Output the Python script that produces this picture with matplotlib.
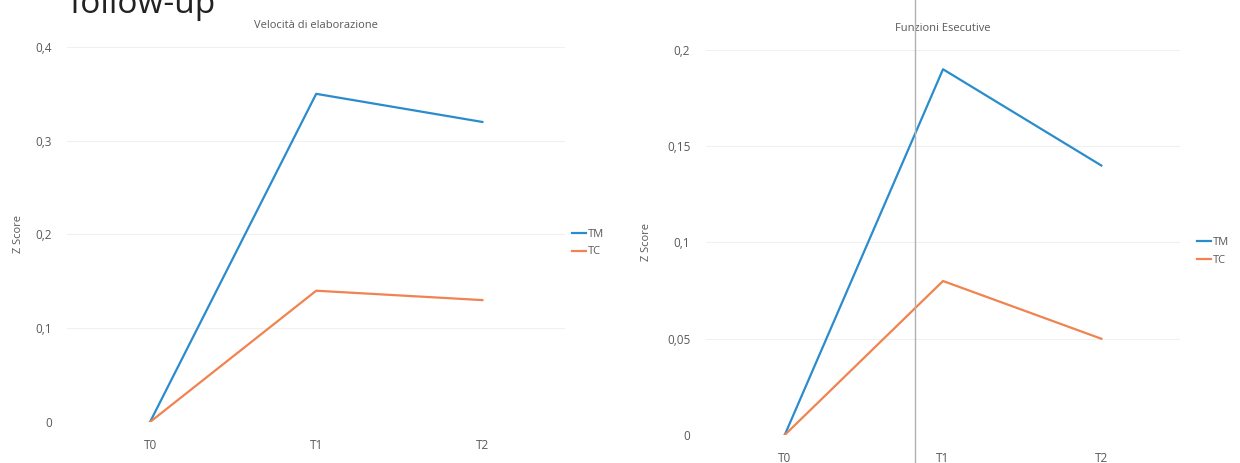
import matplotlib.pyplot as plt
from matplotlib.lines import Line2D

plt.rcParams["font.family"] = ["Open Sans", "DejaVu Sans"]

# data
timepoints = ["T0", "T1", "T2"]
vel_tm = [0, 0.35, 0.32]
vel_tc = [0, 0.14, 0.13]
fe_tm = [0, 0.19, 0.14]
fe_tc = [0, 0.08, 0.05]
vel_ticks = [0, 0.1, 0.2, 0.3, 0.4]
vel_ticklabels = ["0", "0,1", "0,2", "0,3", "0,4"]
fe_ticks = [0, 0.05, 0.1, 0.15, 0.2]
fe_ticklabels = ["0", "0,05", "0,1", "0,15", "0,2"]

BLUE = "#2b8ccd"
ORANGE = "#f0834f"
TEXT = "#595959"

fig = plt.figure(figsize=(12.4, 4.63), dpi=100)
fig.patch.set_facecolor("white")


def draw_panel(rect, tm, tc, ticks, ticklabels, title, ylab_x, leg_x, leg_y):
    ax = fig.add_axes(rect)
    x = [i + 0.5 for i in range(len(timepoints))]
    ax.plot(x, tm, color=BLUE, lw=1.6, label="TM")
    ax.plot(x, tc, color=ORANGE, lw=1.6, label="TC")
    ax.set_xlim(0, len(timepoints))
    ax.set_ylim(ticks[0], ticks[-1])
    ax.set_xticks(x)
    ax.set_xticklabels(timepoints)
    ax.set_yticks(ticks)
    ax.set_yticklabels(ticklabels)
    ax.tick_params(length=0, colors=TEXT, labelsize=8.5)
    ax.tick_params(axis="y", pad=11)
    ax.tick_params(axis="x", pad=12)
    for s in ax.spines.values():
        s.set_visible(False)
    ax.grid(axis="y", color="#f0f0f0", lw=0.8)
    ax.set_axisbelow(True)
    ax.set_title(title, fontsize=8, color=TEXT, pad=14)
    fig.text(ylab_x, rect[1] + rect[3] / 2, "Z Score", rotation=90,
             ha="center", va="center", fontsize=8, color=TEXT)
    ax.legend(loc="center left", bbox_to_anchor=(leg_x, leg_y),
              bbox_transform=fig.transFigure, frameon=False, fontsize=8,
              handlelength=1.2, handletextpad=0.2, labelspacing=0.6,
              labelcolor=TEXT, borderaxespad=0)
    return ax


draw_panel([0.054, 0.0886, 0.402, 0.81], vel_tm, vel_tc, vel_ticks,
           vel_ticklabels, "Velocità di elaborazione", 0.015, 0.458, 0.475)
draw_panel([0.569, 0.0605, 0.383, 0.8315], fe_tm, fe_tc, fe_ticks,
           fe_ticklabels, "Funzioni Esecutive", 0.521, 0.962, 0.457)

# slide artifacts: heading cut by the top edge, vertical cursor line
fig.text(0.056, 1 - 13 / 463, "follow-up", fontsize=24, color="#222222",
         va="baseline")
fig.add_artist(Line2D([915 / 1240, 915 / 1240], [0, 1], color="#b0b0b0",
                      lw=1.0, transform=fig.transFigure))

fig.savefig("out.png", dpi=100, facecolor="white")
